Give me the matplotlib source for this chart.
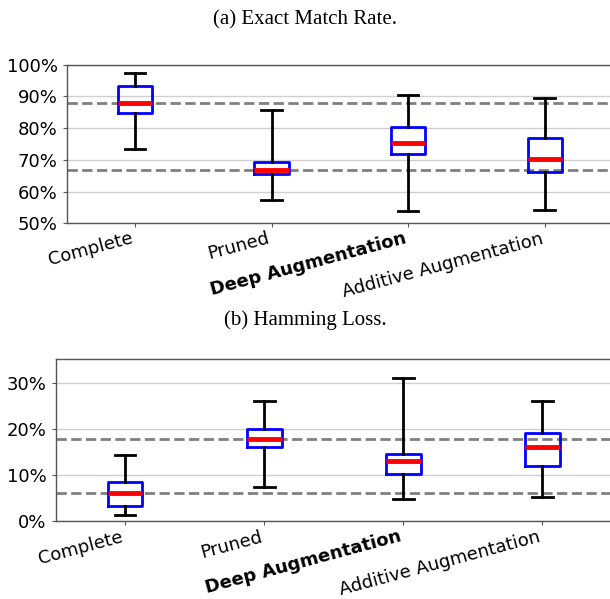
import matplotlib
matplotlib.use("Agg")
import matplotlib.pyplot as plt
from matplotlib.ticker import FuncFormatter

categories = ["Complete", "Pruned", "Deep Augmentation", "Additive Augmentation"]

# Exact match rate (%): whislo, q1, med, q3, whishi
emr_whislo = [73.4, 57.2, 53.9, 54.2]
emr_q1 = [84.9, 65.4, 71.7, 66.1]
emr_med = [88.0, 66.7, 75.4, 70.3]
emr_q3 = [93.3, 69.3, 80.3, 77.0]
emr_whishi = [97.3, 85.7, 90.4, 89.4]

# Hamming loss (%)
hl_whislo = [1.35, 7.5, 4.8, 5.3]
hl_q1 = [3.3, 16.1, 10.2, 11.9]
hl_med = [6.2, 17.8, 13.15, 16.0]
hl_q3 = [8.45, 19.9, 14.6, 19.0]
hl_whishi = [14.35, 26.0, 31.0, 26.0]

emr_ticks = [50, 60, 70, 80, 90, 100]
hl_ticks = [0, 10, 20, 30]


def make_stats(lo, q1, med, q3, hi):
    return [dict(whislo=a, q1=b, med=c, q3=d, whishi=e, fliers=[], label=cat)
            for a, b, c, d, e, cat in zip(lo, q1, med, q3, hi, categories)]


fig = plt.figure(figsize=(6.1, 5.99), dpi=100)
ax1 = fig.add_axes([0.1093, 0.6272, 0.8956, 0.2648])
ax2 = fig.add_axes([0.091, 0.1295, 0.912, 0.2705])

panels = [
    (ax1, make_stats(emr_whislo, emr_q1, emr_med, emr_q3, emr_whishi), emr_med, (50, 100), emr_ticks),
    (ax2, make_stats(hl_whislo, hl_q1, hl_med, hl_q3, hl_whishi), hl_med, (0, 35), hl_ticks),
]

for ax, stats, med, ylim, ticks in panels:
    ax.set_axisbelow(True)
    ax.yaxis.grid(True, color="#d0d0d0", linewidth=1.0, zorder=0)
    ax.axhline(med[0], color="#808080", linestyle="--", linewidth=2, zorder=1)
    ax.axhline(med[1], color="#808080", linestyle="--", linewidth=2, zorder=1)
    ax.bxp(stats, positions=[1, 2, 3, 4], widths=0.25, showfliers=False,
           boxprops=dict(color="blue", linewidth=2),
           medianprops=dict(color="red", linewidth=3.5),
           whiskerprops=dict(color="black", linewidth=2),
           capprops=dict(color="black", linewidth=2),
           capwidths=0.15, zorder=3)
    ax.set_xlim(0.5, 4.5)
    ax.set_ylim(*ylim)
    ax.set_yticks(ticks)
    ax.yaxis.set_major_formatter(FuncFormatter(lambda v, p: f"{v:.0f}%"))
    ax.tick_params(axis="both", labelsize=13, color="#555555", length=3)
    ax.tick_params(axis="x", pad=1.5)
    ax.set_xticks([1, 2, 3, 4])
    ax.set_xticklabels(categories, rotation=15, ha="right")
    for lab in ax.get_xticklabels():
        if lab.get_text() == "Deep Augmentation":
            lab.set_fontweight("bold")
    for sp in ax.spines.values():
        sp.set_color("#555555")
        sp.set_linewidth(1.0)

fig.text(0.5, 0.9666, "(a) Exact Match Rate.", ha="center", va="center",
         fontsize=15, family="Liberation Serif")
fig.text(0.5, 0.4658, "(b) Hamming Loss.", ha="center", va="center",
         fontsize=15, family="Liberation Serif")

fig.savefig("out.png", dpi=100)
